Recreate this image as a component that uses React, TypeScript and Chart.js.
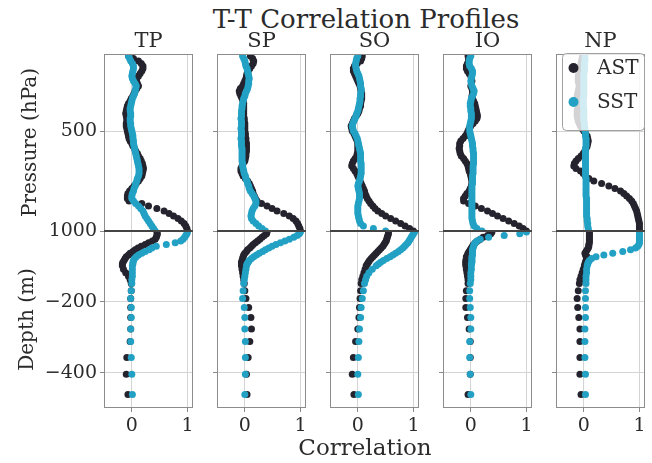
import React, { useEffect, useRef } from 'react';
import { Chart, registerables } from 'chart.js';

Chart.register(...registerables);

// ---------------- data ----------------
const REGIONS = ['TP', 'SP', 'SO', 'IO', 'NP'];
const SERIES_LABELS = ['AST', 'SST'];

// 125 hPa to 1000 hPa every 12.5 hPa
const PRESSURE_LEVELS = [
  125, 137.5, 150, 162.5, 175, 187.5, 200, 212.5, 225, 237.5,
  250, 262.5, 275, 287.5, 300, 312.5, 325, 337.5, 350, 362.5,
  375, 387.5, 400, 412.5, 425, 437.5, 450, 462.5, 475, 487.5,
  500, 512.5, 525, 537.5, 550, 562.5, 575, 587.5, 600, 612.5,
  625, 637.5, 650, 662.5, 675, 687.5, 700, 712.5, 725, 737.5,
  750, 762.5, 775, 787.5, 800, 812.5, 825, 837.5, 850, 862.5,
  875, 887.5, 900, 912.5, 925, 937.5, 950, 962.5, 975, 987.5,
  1000,
];
const DEPTH_LEVELS = [-3, -8, -13, -18, -23, -28, -33, -38, -43, -48, -53, -58, -63, -68, -73, -78, -83, -88, -93, -98, -108, -118, -128, -138, -148, -169, -191, -216, -244, -277, -312, -357, -405, -462];

const PRESSURE_TICKS = [500, 1000];
const DEPTH_TICKS = [-200, -400];
const CORRELATION_TICKS = [0, 1];
const PRESSURE_LIMITS = [115, 1000];
const DEPTH_LIMITS = [-500, 0];
const CORRELATION_LIMITS = [-0.5, 1.1];

const TP_AST_PRESSURE = [
  -0.06, 0.03, 0.12, 0.17, 0.2, 0.2, 0.18, 0.15, 0.12, 0.09,
  0.08, 0.1, 0.12, 0.09, 0.06, 0.04, 0.02, -0.01, -0.03, -0.06,
  -0.08, -0.09, -0.1, -0.11, -0.1, -0.09, -0.09, -0.1, -0.1, -0.09,
  -0.08, -0.07, -0.06, -0.05, -0.03, 0.0, 0.02, 0.05, 0.07, 0.1,
  0.12, 0.15, 0.17, 0.19, 0.2, 0.21, 0.2, 0.19, 0.18, 0.15,
  0.12, 0.08, 0.04, 0.0, -0.04, -0.07, -0.08, -0.08, -0.05, 0.18,
  0.3, 0.45, 0.58, 0.67, 0.75, 0.83, 0.89, 0.94, 0.97, 0.99,
  1.0,
];
const TP_SST_PRESSURE = [
  -0.06, -0.04, -0.02, 0.01, 0.03, 0.03, 0.02, 0.01, 0.0, 0.01,
  0.03, 0.06, 0.08, 0.07, 0.06, 0.05, 0.03, 0.01, 0.0, -0.01,
  -0.02, -0.03, -0.03, -0.02, -0.02, -0.03, -0.03, -0.02, -0.02, -0.01,
  0.0, 0.01, 0.02, 0.02, 0.03, 0.03, 0.04, 0.05, 0.06, 0.07,
  0.08, 0.09, 0.1, 0.11, 0.12, 0.13, 0.13, 0.13, 0.12, 0.1,
  0.09, 0.07, 0.06, 0.04, 0.03, 0.01, 0.0, 0.0, 0.03, 0.07,
  0.12, 0.16, 0.2, 0.22, 0.24, 0.27, 0.3, 0.33, 0.36, 0.39,
  0.42,
];
const TP_AST_DEPTH = [0.45, 0.46, 0.45, 0.44, 0.42, 0.37, 0.3, 0.24, 0.17, 0.11, 0.06, 0.02, -0.03, -0.06, -0.1, -0.12, -0.14, -0.16, -0.17, -0.17, -0.15, -0.11, -0.06, -0.03, -0.01, -0.01, -0.02, -0.02, -0.02, -0.02, -0.03, -0.09, -0.1, -0.07];
const TP_SST_DEPTH = [1.0, 0.99, 0.97, 0.95, 0.92, 0.88, 0.78, 0.62, 0.44, 0.36, 0.31, 0.24, 0.18, 0.12, 0.08, 0.05, 0.03, 0.02, 0.02, 0.01, 0.01, 0.01, 0.01, 0.0, 0.0, -0.01, -0.02, -0.01, -0.01, -0.02, -0.02, -0.01, 0.0, 0.01];

const SP_AST_PRESSURE = [
  0.1, 0.14, 0.16, 0.15, 0.12, 0.09, 0.06, 0.04, 0.03, 0.02,
  0.0, -0.02, -0.04, -0.08, -0.1, -0.09, -0.07, -0.05, -0.03, -0.02,
  -0.02, -0.02, -0.02, -0.02, -0.02, -0.01, -0.01, 0.0, 0.0, 0.0,
  0.0, 0.01, 0.01, 0.02, 0.02, 0.03, 0.03, 0.03, 0.03, 0.02,
  0.02, 0.01, 0.0, -0.03, -0.05, -0.07, -0.07, -0.05, -0.03, 0.01,
  0.05, 0.08, 0.1, 0.12, 0.14, 0.15, 0.17, 0.19, 0.22, 0.3,
  0.4, 0.49, 0.58, 0.7, 0.8, 0.87, 0.92, 0.95, 0.97, 0.99,
  1.0,
];
const SP_SST_PRESSURE = [
  -0.04, -0.02, 0.0, 0.01, 0.02, 0.04, 0.05, 0.06, 0.07, 0.08,
  0.07, 0.07, 0.06, 0.05, 0.03, 0.01, 0.0, -0.02, -0.03, -0.04,
  -0.05, -0.05, -0.06, -0.06, -0.06, -0.07, -0.06, -0.06, -0.06, -0.07,
  -0.06, -0.06, -0.06, -0.07, -0.06, -0.06, -0.06, -0.05, -0.05, -0.05,
  -0.05, -0.05, -0.05, -0.04, -0.04, -0.03, -0.02, -0.01, 0.01, 0.02,
  0.04, 0.05, 0.07, 0.08, 0.1, 0.13, 0.16, 0.18, 0.2, 0.2,
  0.18, 0.15, 0.13, 0.12, 0.11, 0.12, 0.15, 0.2, 0.25, 0.31,
  0.37,
];
const SP_AST_DEPTH = [0.4, 0.39, 0.35, 0.31, 0.27, 0.23, 0.19, 0.15, 0.12, 0.09, 0.05, 0.03, 0.0, -0.02, -0.03, -0.04, -0.05, -0.06, -0.06, -0.06, -0.05, -0.04, -0.03, -0.02, -0.01, 0.0, 0.02, 0.07, 0.11, 0.12, 0.09, 0.06, 0.03, 0.04];
const SP_SST_DEPTH = [1.0, 0.98, 0.94, 0.88, 0.8, 0.72, 0.64, 0.56, 0.49, 0.43, 0.37, 0.32, 0.26, 0.21, 0.16, 0.12, 0.08, 0.06, 0.04, 0.03, 0.02, 0.01, 0.0, -0.01, -0.02, -0.03, -0.04, -0.01, 0.0, 0.0, 0.01, 0.01, 0.01, 0.0];

const SO_AST_PRESSURE = [
  0.08, 0.07, 0.05, -0.01, -0.06, -0.08, -0.08, -0.06, -0.04, -0.02,
  0.0, 0.02, 0.04, 0.05, 0.06, 0.07, 0.07, 0.07, 0.06, 0.05,
  0.05, 0.03, 0.02, 0.0, -0.03, -0.06, -0.08, -0.1, -0.12, -0.11,
  -0.1, -0.07, -0.05, -0.03, -0.01, 0.0, 0.0, 0.0, 0.0, -0.01,
  -0.02, -0.05, -0.08, -0.1, -0.11, -0.08, -0.05, -0.02, 0.0, 0.02,
  0.04, 0.06, 0.08, 0.1, 0.12, 0.13, 0.15, 0.17, 0.2, 0.23,
  0.27, 0.31, 0.36, 0.43, 0.5, 0.59, 0.68, 0.77, 0.85, 0.93,
  1.0,
];
const SO_SST_PRESSURE = [
  0.0, -0.02, -0.03, -0.04, -0.04, -0.03, -0.02, 0.0, 0.02, 0.03,
  0.04, 0.05, 0.05, 0.06, 0.06, 0.05, 0.05, 0.04, 0.04, 0.03,
  0.02, 0.01, 0.0, -0.02, -0.03, -0.05, -0.07, -0.09, -0.1, -0.09,
  -0.08, -0.05, -0.03, -0.01, 0.0, 0.01, 0.02, 0.03, 0.04, 0.05,
  0.05, 0.05, 0.05, 0.06, 0.06, 0.06, 0.06, 0.06, 0.05, 0.04,
  0.03, 0.01, 0.0, 0.01, 0.02, 0.03, 0.03, 0.03, 0.02, 0.01,
  0.0, 0.0, 0.0, 0.0, 0.01, 0.02, 0.03, 0.05, 0.1, 0.28,
  0.5,
];
const SO_AST_DEPTH = [0.55, 0.55, 0.54, 0.53, 0.52, 0.51, 0.49, 0.47, 0.45, 0.42, 0.39, 0.36, 0.33, 0.3, 0.27, 0.24, 0.21, 0.19, 0.17, 0.15, 0.13, 0.11, 0.09, 0.07, 0.06, 0.05, 0.04, 0.03, 0.02, 0.0, -0.04, -0.08, -0.1, -0.07];
const SO_SST_DEPTH = [1.02, 1.0, 0.98, 0.96, 0.94, 0.92, 0.9, 0.87, 0.84, 0.81, 0.77, 0.73, 0.68, 0.63, 0.58, 0.52, 0.46, 0.41, 0.37, 0.33, 0.26, 0.2, 0.16, 0.14, 0.12, 0.1, 0.08, 0.06, 0.05, 0.03, 0.02, 0.01, 0.0, 0.01];

const IO_AST_PRESSURE = [
  -0.05, -0.04, -0.04, -0.06, -0.08, -0.08, -0.06, -0.03, 0.0, 0.01,
  0.02, 0.01, 0.0, 0.02, 0.03, 0.03, 0.02, 0.03, 0.05, 0.07,
  0.08, 0.09, 0.1, 0.11, 0.12, 0.11, 0.08, 0.04, 0.0, -0.03,
  -0.05, -0.07, -0.1, -0.14, -0.18, -0.2, -0.2, -0.21, -0.2, -0.19,
  -0.17, -0.13, -0.1, -0.07, -0.05, -0.04, -0.03, -0.01, 0.0, 0.01,
  0.02, 0.02, 0.01, -0.01, -0.03, -0.07, -0.1, -0.13, -0.13, -0.04,
  0.08, 0.19, 0.3, 0.39, 0.48, 0.58, 0.68, 0.78, 0.87, 0.94,
  1.0,
];
const IO_SST_PRESSURE = [
  0.0, -0.02, -0.03, -0.03, -0.02, 0.01, 0.03, 0.03, 0.02, 0.01,
  0.0, 0.01, 0.02, 0.04, 0.06, 0.05, 0.03, 0.01, 0.0, -0.01,
  -0.01, 0.0, 0.0, 0.01, 0.01, 0.01, 0.0, -0.01, -0.02, -0.02,
  -0.02, -0.01, 0.0, 0.01, 0.02, 0.03, 0.03, 0.04, 0.04, 0.05,
  0.05, 0.05, 0.05, 0.05, 0.04, 0.04, 0.04, 0.04, 0.03, 0.03,
  0.03, 0.03, 0.02, 0.02, 0.02, 0.02, 0.02, 0.02, 0.02, 0.02,
  0.02, 0.02, 0.02, 0.02, 0.02, 0.02, 0.03, 0.04, 0.06, 0.11,
  0.2,
];
const IO_AST_DEPTH = [0.38, 0.36, 0.3, 0.22, 0.17, 0.12, 0.08, 0.05, 0.03, 0.01, -0.01, -0.03, -0.05, -0.06, -0.08, -0.08, -0.09, -0.09, -0.09, -0.09, -0.08, -0.07, -0.06, -0.05, -0.05, -0.08, -0.09, -0.09, -0.06, -0.03, -0.01, -0.01, -0.01, -0.05];
const IO_SST_DEPTH = [1.0, 0.88, 0.6, 0.32, 0.17, 0.11, 0.08, 0.06, 0.05, 0.04, 0.03, 0.03, 0.03, 0.03, 0.02, 0.02, 0.02, 0.02, 0.01, 0.01, 0.01, 0.0, 0.0, 0.0, -0.01, -0.02, -0.02, -0.01, 0.0, 0.0, -0.02, -0.02, -0.01, 0.0];

const NP_AST_PRESSURE = [
  -0.02, -0.03, -0.04, -0.05, -0.06, -0.07, -0.08, -0.09, -0.1, -0.1,
  -0.1, -0.09, -0.08, -0.09, -0.1, -0.11, -0.12, -0.12, -0.12, -0.11,
  -0.1, -0.11, -0.12, -0.12, -0.12, -0.11, -0.1, -0.08, -0.06, -0.03,
  0.0, 0.03, 0.06, 0.07, 0.08, 0.07, 0.06, 0.04, 0.02, -0.01,
  -0.05, -0.1, -0.14, -0.17, -0.18, -0.14, -0.06, -0.01, 0.03, 0.09,
  0.18, 0.32, 0.45, 0.56, 0.66, 0.72, 0.77, 0.82, 0.86, 0.89,
  0.91, 0.93, 0.95, 0.96, 0.97, 0.98, 0.99, 1.0, 1.0, 1.0,
  1.0,
];
const NP_SST_PRESSURE = [
  0.02, 0.02, 0.02, 0.01, 0.01, 0.01, 0.01, 0.0, 0.0, 0.0,
  0.0, 0.0, 0.0, 0.0, 0.0, 0.0, 0.0, -0.01, -0.01, -0.01,
  -0.01, 0.0, 0.0, 0.0, 0.0, 0.0, 0.0, 0.01, 0.01, 0.02,
  0.02, 0.03, 0.03, 0.04, 0.04, 0.04, 0.04, 0.03, 0.03, 0.03,
  0.03, 0.03, 0.03, 0.03, 0.03, 0.03, 0.03, 0.03, 0.03, 0.04,
  0.04, 0.04, 0.04, 0.04, 0.04, 0.04, 0.04, 0.05, 0.05, 0.05,
  0.05, 0.05, 0.05, 0.05, 0.05, 0.06, 0.06, 0.07, 0.07, 0.08,
  0.08,
];
const NP_AST_DEPTH = [0.1, 0.1, 0.1, 0.1, 0.1, 0.1, 0.1, 0.09, 0.09, 0.08, 0.06, 0.04, 0.02, 0.03, 0.06, 0.05, 0.04, 0.03, 0.02, 0.01, -0.01, -0.03, -0.05, -0.07, -0.08, -0.1, -0.12, -0.11, -0.09, -0.07, -0.07, -0.07, -0.07, -0.05];
const NP_SST_DEPTH = [1.0, 1.0, 1.0, 1.0, 1.0, 1.0, 1.0, 0.99, 0.97, 0.93, 0.84, 0.7, 0.52, 0.36, 0.22, 0.14, 0.1, 0.08, 0.07, 0.06, 0.05, 0.05, 0.04, 0.04, 0.04, 0.03, 0.03, 0.03, 0.03, 0.02, 0.02, 0.02, 0.03, 0.03];

// table built from the arrays above
const PANEL_SERIES: Record<string, number[][]> = {
  TP: [TP_AST_PRESSURE, TP_SST_PRESSURE, TP_AST_DEPTH, TP_SST_DEPTH],
  SP: [SP_AST_PRESSURE, SP_SST_PRESSURE, SP_AST_DEPTH, SP_SST_DEPTH],
  SO: [SO_AST_PRESSURE, SO_SST_PRESSURE, SO_AST_DEPTH, SO_SST_DEPTH],
  IO: [IO_AST_PRESSURE, IO_SST_PRESSURE, IO_AST_DEPTH, IO_SST_DEPTH],
  NP: [NP_AST_PRESSURE, NP_SST_PRESSURE, NP_AST_DEPTH, NP_SST_DEPTH],
};

// ---------------- style / layout ----------------
const FONT = "'DejaVu Serif', serif";
const TEXT = '#2b2b2b';
const AST_COLOR = '#25242e';
const SST_COLOR = '#22a1c4';
const GRID = '#d4d4d4';
const TICK = '#8a8a8a';
const FRAME = '#8c8c8c';
const POINT_R = 3.5;

const PANEL_LEFT = [104, 217, 330, 443, 556];
const PANEL_WIDTH = 89;
const SIDE_GAP = 10;
const RIGHT_PAD = 6;
const CANVAS_TOP = 28;
const CANVAS_HEIGHT = 420;
const X_AXIS_HEIGHT = 40;

const fmt = (v: number) => String(v).replace('-', '\u2212');

const framePlugin = {
  id: 'panelFrame',
  afterDatasetsDraw(chart: any) {
    const { ctx, chartArea: a, scales } = chart;
    ctx.save();
    ctx.strokeStyle = FRAME;
    ctx.lineWidth = 1;
    const l = Math.round(a.left) + 0.5;
    const t = Math.round(a.top) + 0.5;
    const r = Math.round(a.right) - 0.5;
    const b = Math.round(a.bottom) - 0.5;
    ctx.strokeRect(l, t, r - l, b - t);
    const yb = scales.yP.bottom;
    ctx.strokeStyle = '#444444';
    ctx.lineWidth = 1.8;
    ctx.beginPath();
    ctx.moveTo(a.left, yb);
    ctx.lineTo(a.right, yb);
    ctx.stroke();
    ctx.restore();
  },
};

const insetLegendPlugin = {
  id: 'insetLegend',
  afterDraw(chart: any) {
    const { ctx, chartArea: a } = chart;
    const items = chart.data.datasets.filter((d: any) => d.inLegend);
    const w = 82;
    const h = 77;
    const x = a.right - w - 1;
    const y = a.top - 1;
    ctx.save();
    ctx.beginPath();
    ctx.roundRect(x + 0.5, y + 0.5, w, h, 4);
    ctx.fillStyle = 'rgba(255,255,255,0.8)';
    ctx.fill();
    ctx.strokeStyle = '#a0a0a0';
    ctx.lineWidth = 1;
    ctx.stroke();
    items.forEach((d: any, k: number) => {
      const cy = y + 15 + k * 34;
      ctx.beginPath();
      ctx.arc(x + 11.5, cy, 5, 0, Math.PI * 2);
      ctx.fillStyle = d.backgroundColor;
      ctx.fill();
      ctx.fillStyle = TEXT;
      ctx.font = `20px ${FONT}`;
      ctx.textBaseline = 'middle';
      ctx.textAlign = 'left';
      ctx.fillText(d.label, x + 35, cy + 1);
    });
    ctx.restore();
  },
};

function Panel({ index }: { index: number }) {
  const ref = useRef<HTMLCanvasElement | null>(null);
  const region = REGIONS[index];
  const first = index === 0;
  const last = index === REGIONS.length - 1;
  const yWidth = first ? PANEL_LEFT[0] : SIDE_GAP;
  const canvasLeft = PANEL_LEFT[index] - yWidth;
  const canvasWidth = yWidth + PANEL_WIDTH + RIGHT_PAD;

  useEffect(() => {
    const [astP, sstP, astD, sstD] = PANEL_SERIES[region];
    const pts = (vals: number[], levels: number[]) => levels.map((lv, k) => ({ x: vals[k], y: lv }));
    const ds = (label: string, color: string, data: any[], yAxisID: string, order: number, inLegend: boolean) => ({
      label,
      data,
      yAxisID,
      xAxisID: 'x',
      order,
      inLegend,
      backgroundColor: color,
      borderColor: color,
      borderWidth: 0,
      pointRadius: POINT_R,
      pointBorderWidth: 0,
      pointHoverRadius: POINT_R,
      showLine: false,
    });
    const tickFont = { family: FONT, size: 19 };
    const grid = { color: GRID, tickColor: TICK, tickLength: 4, lineWidth: 1, drawTicks: true };
    const yCommon = (ticks: number[], titleText: string, titlePad: number) => ({
      type: 'linear',
      position: 'left',
      stack: 'column',
      stackWeight: 1,
      afterBuildTicks: (s: any) => {
        s.ticks = ticks.map((v) => ({ value: v }));
      },
      afterFit: (s: any) => {
        s.width = yWidth;
      },
      ticks: { display: first, font: tickFont, color: TEXT, padding: 3, callback: (v: any) => fmt(v) },
      grid,
      border: { display: false },
      title: {
        display: first,
        text: titleText,
        color: TEXT,
        font: { family: FONT, size: 20, lineHeight: 1.2 },
        padding: { top: titlePad, bottom: 0 },
      },
    });

    const chart = new Chart(ref.current as HTMLCanvasElement, {
      type: 'scatter',
      data: {
        datasets: [
          ds(SERIES_LABELS[0], AST_COLOR, pts(astP, PRESSURE_LEVELS), 'yP', 1, true),
          ds(SERIES_LABELS[1], SST_COLOR, pts(sstP, PRESSURE_LEVELS), 'yP', 0, true),
          ds(SERIES_LABELS[0], AST_COLOR, pts(astD, DEPTH_LEVELS), 'yD', 1, false),
          ds(SERIES_LABELS[1], SST_COLOR, pts(sstD, DEPTH_LEVELS), 'yD', 0, false),
        ] as any,
      },
      options: {
        responsive: false,
        maintainAspectRatio: false,
        devicePixelRatio: 1,
        animation: false,
        events: [],
        layout: { padding: { left: 0, right: RIGHT_PAD, top: 0, bottom: 0 } },
        plugins: {
          legend: { display: false },
          tooltip: { enabled: false },
          title: {
            display: true,
            text: region,
            fullSize: false,
            color: TEXT,
            font: { family: FONT, size: 21, lineHeight: 1, weight: 'normal' },
            padding: { top: 3, bottom: 2 },
          },
        },
        scales: {
          x: {
            type: 'linear',
            position: 'bottom',
            min: CORRELATION_LIMITS[0],
            max: CORRELATION_LIMITS[1],
            afterBuildTicks: (s: any) => {
              s.ticks = CORRELATION_TICKS.map((v) => ({ value: v }));
            },
            afterFit: (s: any) => {
              s.height = X_AXIS_HEIGHT;
            },
            ticks: { font: tickFont, color: TEXT, padding: 3, maxRotation: 0, autoSkip: false, callback: (v: any) => fmt(v) },
            grid,
            border: { display: false },
          },
          yP: {
            ...yCommon(PRESSURE_TICKS, 'Pressure (hPa)', 19),
            weight: 2,
            reverse: true,
            min: PRESSURE_LIMITS[0],
            max: PRESSURE_LIMITS[1],
          },
          yD: {
            ...yCommon(DEPTH_TICKS, 'Depth (m)', 16),
            weight: 1,
            min: DEPTH_LIMITS[0],
            max: DEPTH_LIMITS[1],
          },
        } as any,
      } as any,
      plugins: last ? [framePlugin, insetLegendPlugin] : [framePlugin],
    });
    return () => chart.destroy();
  }, []);

  return (
    <canvas
      ref={ref}
      width={canvasWidth}
      height={CANVAS_HEIGHT}
      style={{ position: 'absolute', left: canvasLeft, top: CANVAS_TOP, width: canvasWidth, height: CANVAS_HEIGHT }}
    />
  );
}

export default function App() {
  return (
    <div
      style={{
        position: 'absolute',
        left: 0,
        top: 0,
        width: 652,
        height: 463,
        background: '#ffffff',
        overflow: 'hidden',
        fontFamily: FONT,
        color: TEXT,
      }}
    >
      <div
        style={{
          position: 'absolute',
          left: 366,
          top: 6,
          transform: 'translateX(-50%)',
          fontSize: 26,
          lineHeight: '26px',
          whiteSpace: 'nowrap',
        }}
      >
        T-T Correlation Profiles
      </div>
      {REGIONS.map((r, i) => (
        <Panel key={r} index={i} />
      ))}
      <div
        style={{
          position: 'absolute',
          left: 365,
          top: 435.5,
          transform: 'translateX(-50%)',
          fontSize: 23,
          lineHeight: '23px',
          whiteSpace: 'nowrap',
        }}
      >
        Correlation
      </div>
    </div>
  );
}
